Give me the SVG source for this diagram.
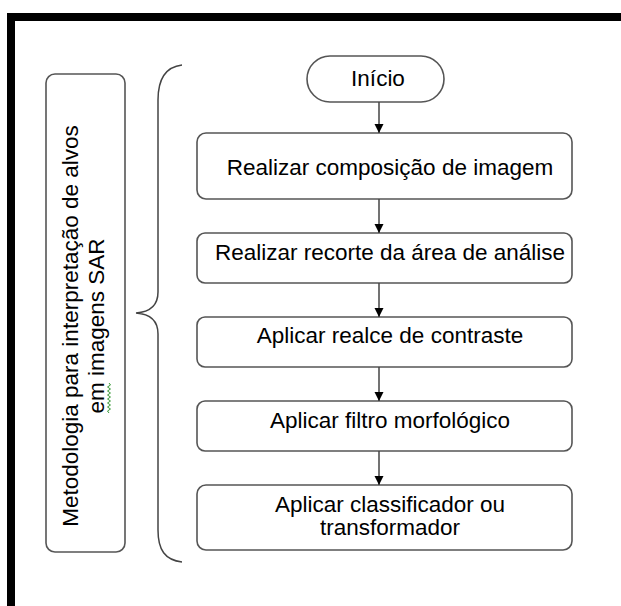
<svg xmlns="http://www.w3.org/2000/svg" width="621" height="606" viewBox="0 0 621 606">
<defs>
<style>
.box{fill:#fff;stroke:#555;stroke-width:1.6}
.t{font-family:"Liberation Sans",Arial,sans-serif;font-size:22.5px;fill:#000;text-anchor:middle}
.c{stroke:#444;stroke-width:1.5;fill:none}
</style>
<marker id="ah" viewBox="0 0 10 10" refX="10" refY="5" markerWidth="9" markerHeight="10" markerUnits="userSpaceOnUse" orient="auto">
<path d="M0,0 L10,5 L0,10 Z" fill="#000"/>
</marker>
</defs>
<rect width="621" height="606" fill="#fff"/>
<g id="frame">
<rect x="7" y="13" width="614" height="8" fill="#000"/>
<rect x="7" y="13" width="8" height="593" fill="#000"/>
</g>
<g id="method">
<rect class="box" x="46" y="74" width="79" height="478" rx="9"/>
<text class="t" transform="translate(78,326) rotate(-90)">Metodologia para interpretação de alvos</text>
<text class="t" transform="translate(104,326) rotate(-90)">em imagens SAR</text>
<path d="M109,413 l-1.5,-2 l3,-2 l-3,-2 l3,-2 l-3,-2 l3,-2 l-3,-2 l3,-2 l-3,-2 l3,-2 l-3,-2 l3,-2 l-3,-2 l3,-2 l-1.5,-2" fill="none" stroke="#3a9a3a" stroke-width="1"/>
</g>
<g id="brace">
<path class="c" d="M182,65 C165,67 158,80 158,100 L158,292 C158,305 150,312 136,313 C150,314 158,321 158,334 L158,530 C158,550 165,560 182,562"/>
</g>
<g id="start">
<rect class="box" x="307" y="56" width="137" height="46" rx="23"/>
<text class="t" x="378" y="86">Início</text>
</g>
<g id="step1">
<rect class="box" x="197" y="133" width="375" height="66" rx="9"/>
<text class="t" x="390" y="175">Realizar composição de imagem</text>
</g>
<g id="step2">
<rect class="box" x="197" y="233" width="375" height="50" rx="8"/>
<text class="t" x="390" y="260">Realizar recorte da área de análise</text>
</g>
<g id="step3">
<rect class="box" x="197" y="317" width="375" height="50" rx="8"/>
<text class="t" x="390" y="343">Aplicar realce de contraste</text>
</g>
<g id="step4">
<rect class="box" x="197" y="401" width="375" height="50" rx="8"/>
<text class="t" x="390" y="428">Aplicar filtro morfológico</text>
</g>
<g id="step5">
<rect class="box" x="197" y="485" width="375" height="65" rx="9"/>
<text class="t" x="390" y="512">Aplicar classificador ou</text>
<text class="t" x="390" y="535">transformador</text>
</g>
<g id="connectors">
<line class="c" x1="379" y1="102" x2="379" y2="133" marker-end="url(#ah)"/>
<line class="c" x1="379" y1="199" x2="379" y2="233" marker-end="url(#ah)"/>
<line class="c" x1="379" y1="283" x2="379" y2="317" marker-end="url(#ah)"/>
<line class="c" x1="379" y1="367" x2="379" y2="401" marker-end="url(#ah)"/>
<line class="c" x1="379" y1="451" x2="379" y2="485" marker-end="url(#ah)"/>
</g>
</svg>
